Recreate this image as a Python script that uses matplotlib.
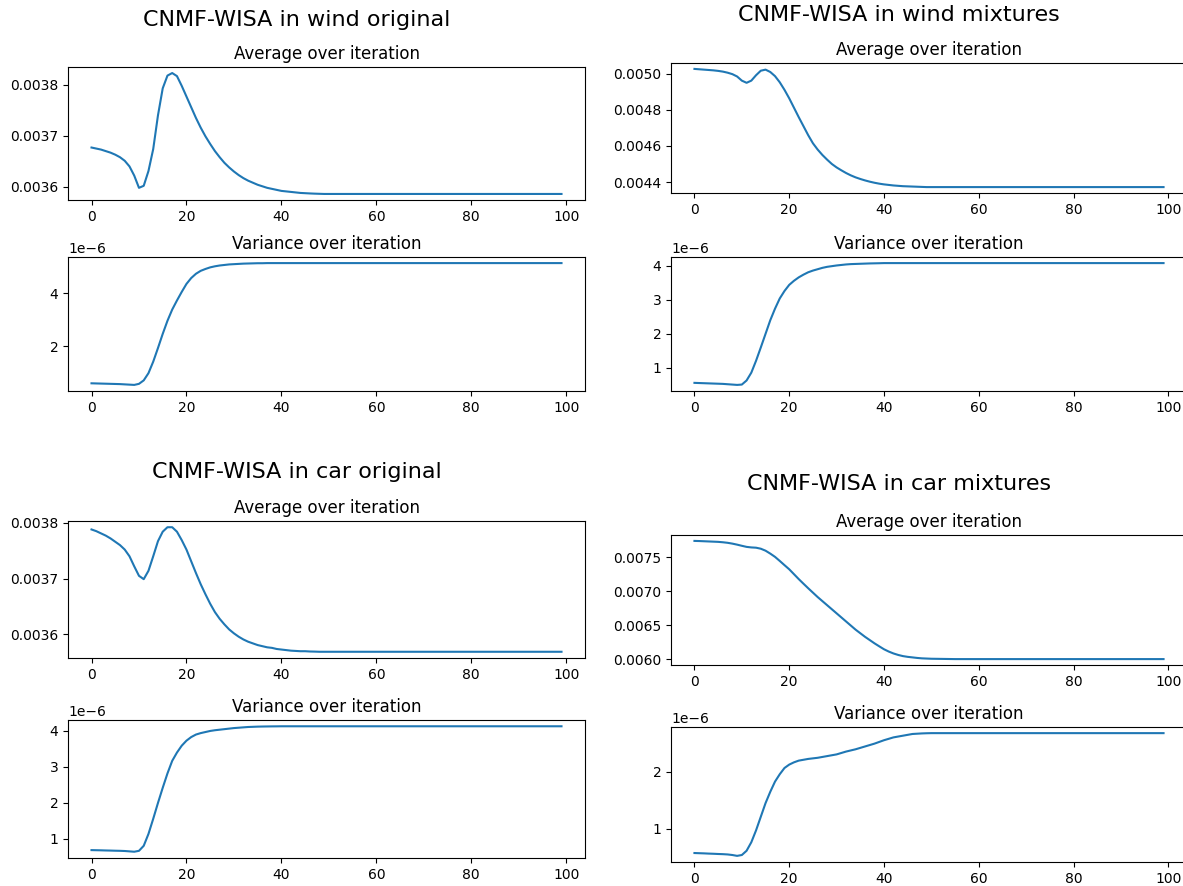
import matplotlib
matplotlib.use("Agg")
import matplotlib.pyplot as plt
import numpy as np

iterations = list(range(100))

# averages in units of 1e-3, variances in units of 1e-6
wind_orig_avg = [
    3.677, 3.675, 3.673, 3.670, 3.667, 3.663, 3.658, 3.651, 3.640, 3.622,
    3.598, 3.602, 3.631, 3.674, 3.740, 3.793, 3.818, 3.823, 3.817, 3.798,
    3.777, 3.756, 3.735, 3.716, 3.699, 3.684, 3.670, 3.658, 3.647, 3.638,
    3.630, 3.623, 3.617, 3.612, 3.608, 3.604, 3.601, 3.598, 3.596, 3.594,
    3.592, 3.591, 3.590, 3.589, 3.588, 3.5875, 3.587, 3.5866, 3.5863, 3.586,
    3.586, 3.586, 3.586, 3.586, 3.586, 3.586, 3.586, 3.586, 3.586, 3.586,
    3.586, 3.586, 3.586, 3.586, 3.586, 3.586, 3.586, 3.586, 3.586, 3.586,
    3.586, 3.586, 3.586, 3.586, 3.586, 3.586, 3.586, 3.586, 3.586, 3.586,
    3.586, 3.586, 3.586, 3.586, 3.586, 3.586, 3.586, 3.586, 3.586, 3.586,
    3.586, 3.586, 3.586, 3.586, 3.586, 3.586, 3.586, 3.586, 3.586, 3.586,
]
wind_orig_var = [
    0.62, 0.615, 0.61, 0.605, 0.60, 0.595, 0.59, 0.58, 0.57, 0.56,
    0.60, 0.73, 1.00, 1.43, 1.94, 2.47, 2.96, 3.38, 3.72, 4.04,
    4.34, 4.56, 4.72, 4.83, 4.90, 4.96, 5.00, 5.03, 5.05, 5.07,
    5.08, 5.09, 5.10, 5.105, 5.11, 5.115, 5.115, 5.12, 5.12, 5.12,
    5.12, 5.12, 5.12, 5.12, 5.12, 5.12, 5.12, 5.12, 5.12, 5.12,
    5.12, 5.12, 5.12, 5.12, 5.12, 5.12, 5.12, 5.12, 5.12, 5.12,
    5.12, 5.12, 5.12, 5.12, 5.12, 5.12, 5.12, 5.12, 5.12, 5.12,
    5.12, 5.12, 5.12, 5.12, 5.12, 5.12, 5.12, 5.12, 5.12, 5.12,
    5.12, 5.12, 5.12, 5.12, 5.12, 5.12, 5.12, 5.12, 5.12, 5.12,
    5.12, 5.12, 5.12, 5.12, 5.12, 5.12, 5.12, 5.12, 5.12, 5.12,
]
wind_mix_avg = [
    5.027, 5.025, 5.023, 5.021, 5.019, 5.016, 5.012, 5.006, 4.998, 4.985,
    4.962, 4.950, 4.962, 4.992, 5.017, 5.023, 5.010, 4.987, 4.953, 4.911,
    4.864, 4.812, 4.760, 4.710, 4.660, 4.615, 4.580, 4.550, 4.524, 4.500,
    4.481, 4.465, 4.450, 4.437, 4.426, 4.417, 4.409, 4.402, 4.396, 4.391,
    4.387, 4.384, 4.381, 4.379, 4.377, 4.376, 4.375, 4.374, 4.373, 4.372,
    4.372, 4.372, 4.372, 4.372, 4.372, 4.372, 4.372, 4.372, 4.372, 4.372,
    4.372, 4.372, 4.372, 4.372, 4.372, 4.372, 4.372, 4.372, 4.372, 4.372,
    4.372, 4.372, 4.372, 4.372, 4.372, 4.372, 4.372, 4.372, 4.372, 4.372,
    4.372, 4.372, 4.372, 4.372, 4.372, 4.372, 4.372, 4.372, 4.372, 4.372,
    4.372, 4.372, 4.372, 4.372, 4.372, 4.372, 4.372, 4.372, 4.372, 4.372,
]
wind_mix_var = [
    0.56, 0.555, 0.55, 0.545, 0.54, 0.535, 0.53, 0.52, 0.51, 0.50,
    0.51, 0.63, 0.86, 1.21, 1.60, 2.00, 2.40, 2.74, 3.04, 3.26,
    3.44, 3.56, 3.66, 3.74, 3.81, 3.86, 3.90, 3.94, 3.97, 3.99,
    4.01, 4.025, 4.04, 4.05, 4.055, 4.06, 4.065, 4.07, 4.073, 4.076,
    4.08, 4.08, 4.08, 4.08, 4.08, 4.08, 4.08, 4.08, 4.08, 4.08,
    4.08, 4.08, 4.08, 4.08, 4.08, 4.08, 4.08, 4.08, 4.08, 4.08,
    4.08, 4.08, 4.08, 4.08, 4.08, 4.08, 4.08, 4.08, 4.08, 4.08,
    4.08, 4.08, 4.08, 4.08, 4.08, 4.08, 4.08, 4.08, 4.08, 4.08,
    4.08, 4.08, 4.08, 4.08, 4.08, 4.08, 4.08, 4.08, 4.08, 4.08,
    4.08, 4.08, 4.08, 4.08, 4.08, 4.08, 4.08, 4.08, 4.08, 4.08,
]
car_orig_avg = [
    3.788, 3.785, 3.781, 3.777, 3.772, 3.766, 3.760, 3.752, 3.740, 3.722,
    3.705, 3.699, 3.714, 3.740, 3.767, 3.784, 3.792, 3.792, 3.784, 3.769,
    3.752, 3.731, 3.710, 3.690, 3.672, 3.655, 3.640, 3.628, 3.618, 3.609,
    3.602, 3.596, 3.591, 3.587, 3.584, 3.581, 3.579, 3.577, 3.576, 3.574,
    3.573, 3.572, 3.571, 3.5705, 3.570, 3.570, 3.5695, 3.5693, 3.569, 3.569,
    3.569, 3.569, 3.569, 3.569, 3.569, 3.569, 3.569, 3.569, 3.569, 3.569,
    3.569, 3.569, 3.569, 3.569, 3.569, 3.569, 3.569, 3.569, 3.569, 3.569,
    3.569, 3.569, 3.569, 3.569, 3.569, 3.569, 3.569, 3.569, 3.569, 3.569,
    3.569, 3.569, 3.569, 3.569, 3.569, 3.569, 3.569, 3.569, 3.569, 3.569,
    3.569, 3.569, 3.569, 3.569, 3.569, 3.569, 3.569, 3.569, 3.569, 3.569,
]
car_orig_var = [
    0.69, 0.687, 0.684, 0.68, 0.677, 0.673, 0.67, 0.665, 0.655, 0.645,
    0.67, 0.81, 1.14, 1.56, 2.00, 2.42, 2.82, 3.17, 3.40, 3.59,
    3.73, 3.83, 3.90, 3.94, 3.97, 4.00, 4.02, 4.035, 4.05, 4.065,
    4.08, 4.09, 4.10, 4.11, 4.115, 4.12, 4.123, 4.125, 4.127, 4.128,
    4.13, 4.13, 4.13, 4.13, 4.13, 4.13, 4.13, 4.13, 4.13, 4.13,
    4.13, 4.13, 4.13, 4.13, 4.13, 4.13, 4.13, 4.13, 4.13, 4.13,
    4.13, 4.13, 4.13, 4.13, 4.13, 4.13, 4.13, 4.13, 4.13, 4.13,
    4.13, 4.13, 4.13, 4.13, 4.13, 4.13, 4.13, 4.13, 4.13, 4.13,
    4.13, 4.13, 4.13, 4.13, 4.13, 4.13, 4.13, 4.13, 4.13, 4.13,
    4.13, 4.13, 4.13, 4.13, 4.13, 4.13, 4.13, 4.13, 4.13, 4.13,
]
car_mix_avg = [
    7.740, 7.738, 7.735, 7.732, 7.729, 7.726, 7.720, 7.712, 7.700, 7.685,
    7.668, 7.652, 7.644, 7.640, 7.625, 7.596, 7.553, 7.505, 7.445, 7.383,
    7.322, 7.250, 7.178, 7.110, 7.043, 6.978, 6.913, 6.853, 6.793, 6.733,
    6.673, 6.613, 6.553, 6.493, 6.433, 6.380, 6.327, 6.279, 6.231, 6.187,
    6.144, 6.110, 6.082, 6.060, 6.043, 6.032, 6.024, 6.016, 6.010, 6.007,
    6.004, 6.003, 6.002, 6.001, 6.000, 5.999, 5.999, 5.999, 5.999, 5.999,
    5.999, 5.999, 5.999, 5.999, 5.999, 5.999, 5.999, 5.999, 5.999, 5.999,
    5.999, 5.999, 5.999, 5.999, 5.999, 5.999, 5.999, 5.999, 5.999, 5.999,
    5.999, 5.999, 5.999, 5.999, 5.999, 5.999, 5.999, 5.999, 5.999, 5.999,
    5.999, 5.999, 5.999, 5.999, 5.999, 5.999, 5.999, 5.999, 5.999, 5.999,
]
car_mix_var = [
    0.57, 0.567, 0.564, 0.56, 0.557, 0.553, 0.55, 0.545, 0.535, 0.52,
    0.535, 0.61, 0.76, 0.97, 1.21, 1.45, 1.65, 1.83, 1.96, 2.07,
    2.13, 2.17, 2.20, 2.215, 2.23, 2.24, 2.25, 2.265, 2.28, 2.295,
    2.31, 2.335, 2.36, 2.38, 2.40, 2.425, 2.45, 2.475, 2.50, 2.53,
    2.56, 2.585, 2.61, 2.625, 2.64, 2.655, 2.67, 2.675, 2.68, 2.683,
    2.685, 2.685, 2.685, 2.685, 2.685, 2.685, 2.685, 2.685, 2.685, 2.685,
    2.685, 2.685, 2.685, 2.685, 2.685, 2.685, 2.685, 2.685, 2.685, 2.685,
    2.685, 2.685, 2.685, 2.685, 2.685, 2.685, 2.685, 2.685, 2.685, 2.685,
    2.685, 2.685, 2.685, 2.685, 2.685, 2.685, 2.685, 2.685, 2.685, 2.685,
    2.685, 2.685, 2.685, 2.685, 2.685, 2.685, 2.685, 2.685, 2.685, 2.685,
]

block_titles = ["CNMF-WISA in wind original", "CNMF-WISA in wind mixtures",
                "CNMF-WISA in car original", "CNMF-WISA in car mixtures"]
avg_title = "Average over iteration"
var_title = "Variance over iteration"

W, H = 1183, 886
fig = plt.figure(figsize=(W / 100, H / 100), dpi=100)
fig.patch.set_facecolor("white")


def px_axes(l, t, r, b):
    return fig.add_axes([l / W, 1 - b / H, (r - l) / W, (b - t) / H])


blocks = [
    # suptitle pos, avg box, var box, avg data, var data
    ((297, 20), (68, 67, 585, 200), (68, 257, 585, 391), wind_orig_avg, wind_orig_var),
    ((899, 15), (671, 63, 1187, 193), (671, 257, 1187, 391), wind_mix_avg, wind_mix_var),
    ((297, 472), (68, 521, 585, 658), (68, 720, 585, 858), car_orig_avg, car_orig_var),
    ((899, 484), (671, 535, 1187, 665), (671, 727, 1187, 862), car_mix_avg, car_mix_var),
]

for title, (tpos, abox, vbox, avg, var) in zip(block_titles, blocks):
    fig.text(tpos[0] / W, 1 - tpos[1] / H, title, fontsize=16,
             ha="center", va="center")
    ax1 = px_axes(*abox)
    ax1.plot(iterations, np.array(avg) * 1e-3, color="#1f77b4", lw=1.5)
    ax1.set_title(avg_title, fontsize=12)
    ax2 = px_axes(*vbox)
    ax2.plot(iterations, np.array(var) * 1e-6, color="#1f77b4", lw=1.5)
    ax2.set_title(var_title, fontsize=12)
    for ax in (ax1, ax2):
        ax.tick_params(labelsize=10)

fig.savefig("out.png", dpi=100, facecolor="white")
